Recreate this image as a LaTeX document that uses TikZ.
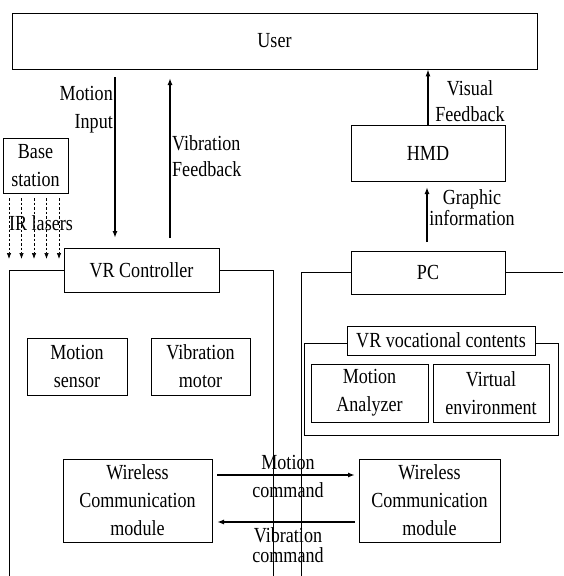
\documentclass[tikz,border=0pt]{standalone}
\usepackage{fontspec}
\setmainfont{Liberation Serif}[FakeStretch=0.84]
\usetikzlibrary{arrows.meta}
\begin{document}
\begin{tikzpicture}[x=1pt,y=-1pt,
  every node/.style={font=\fontsize{21.5}{28}\selectfont, inner sep=0pt},
  blk/.style={draw, line width=0.8pt, align=center},
  lbl/.style={align=center},
  skip26/.style={font=\fontsize{21.5}{26}\selectfont},
  skip20/.style={font=\fontsize{21.5}{20}\selectfont},
  wire/.style={line width=0.8pt},
  thick arrow/.style={line width=1.5pt, -{Latex[length=7pt,width=5pt]}},
  laser/.style={line width=0.7pt, dashed, dash pattern=on 2.5pt off 2pt, -{Latex[length=6pt,width=4.5pt]}}]
\useasboundingbox (0,0) rectangle (563,576);

% boxes
\node[blk, minimum width=525pt, minimum height=56pt] (user) at (274.5,41) {User};
\node[blk, minimum width=65pt, minimum height=55pt] (base) at (35.5,166) {Base\\station};
\node[blk, minimum width=155pt, minimum height=44pt] (vrc) at (141.5,270) {VR Controller};
\node[blk, minimum width=154pt, minimum height=56pt] (hmd) at (428,153) {HMD};
\node[blk, minimum width=154pt, minimum height=43pt] (pc) at (428,272.5) {PC};
\node[blk, minimum width=100pt, minimum height=57pt] (msensor) at (77,366.5) {Motion\\sensor};
\node[blk, minimum width=99pt, minimum height=57pt] (vmotor) at (200.5,366.5) {Vibration\\motor};
\node[draw, line width=0.8pt, minimum width=254pt, minimum height=92pt] (vcont) at (431,389) {};
\node[blk, fill=white, minimum width=188pt, minimum height=29pt] (vtitle) at (441,340.5) {VR vocational contents};
\node[blk, minimum width=117pt, minimum height=58pt] (manalyzer) at (369.5,393) {Motion\\Analyzer};
\node[blk, minimum width=116pt, minimum height=58pt] (venv) at (491,393) {Virtual\\environment};
\node[blk, minimum width=149pt, minimum height=83pt] (wl) at (137.5,500.5) {Wireless\\Communication\\module};
\node[blk, minimum width=141pt, minimum height=83pt] (wr) at (429.5,500.5) {Wireless\\Communication\\module};

% containers
\coordinate (cl1) at (9,576);
\coordinate (cl2) at (9,270);
\coordinate (cr1) at (273,270);
\coordinate (cr2) at (273,576);
\draw[wire] (cl1) -- (cl2) -- (vrc.west);
\draw[wire] (vrc.east) -- (cr1) -- (cr2);
\coordinate (pl1) at (301.5,576);
\coordinate (pl2) at (301.5,272.5);
\coordinate (pr1) at (563,272.5);
\draw[wire] (pl1) -- (pl2) -- (pc.west);
\draw[wire] (pc.east) -- (pr1);

% user arrows
\coordinate (mi1) at (115,77);
\coordinate (mi2) at (115,238);
\draw[thick arrow] (mi1) -- (mi2);
\node[lbl, anchor=east, align=right] (milbl) at (113,110) {Motion\\Input};
\coordinate (vf1) at (170,238);
\coordinate (vf2) at (170,78);
\draw[thick arrow] (vf1) -- (vf2);
\node[lbl, skip26, anchor=west, align=left] (vflbl) at (172,156) {Vibration\\Feedback};

\draw[thick arrow] (hmd.north) -- (hmd.north |- user.south);
\node[lbl, skip26] (vislbl) at (470,101) {Visual\\Feedback};

\coordinate (gi1) at (427,242);
\coordinate (gi2) at (427,187);
\draw[thick arrow] (gi1) -- (gi2);
\node[lbl, font=\fontsize{21.5}{21}\selectfont] (gilbl) at (472,208) {Graphic\\information};

% IR lasers
\foreach \i/\xx in {1/9,2/21.5,3/34,4/46.5,5/59}{
  \coordinate (ir\i a) at (\xx,198);
  \coordinate (ir\i b) at (\xx,259);
  \draw[laser] (ir\i a) -- (ir\i b);
}
\node[lbl] (irlbl) at (41,223) {IR lasers};

% commands
\coordinate (mc1) at (217,475);
\coordinate (mc2) at (355,475);
\draw[thick arrow] (mc1) -- (mc2);
\node[lbl] (mclbl) at (288,476) {Motion\\command};
\coordinate (vc1) at (355,522);
\coordinate (vc2) at (217,522);
\draw[thick arrow] (vc1) -- (vc2);
\node[lbl, skip20] (vclbl) at (288,545.5) {Vibration\\command};
\end{tikzpicture}
\end{document}
